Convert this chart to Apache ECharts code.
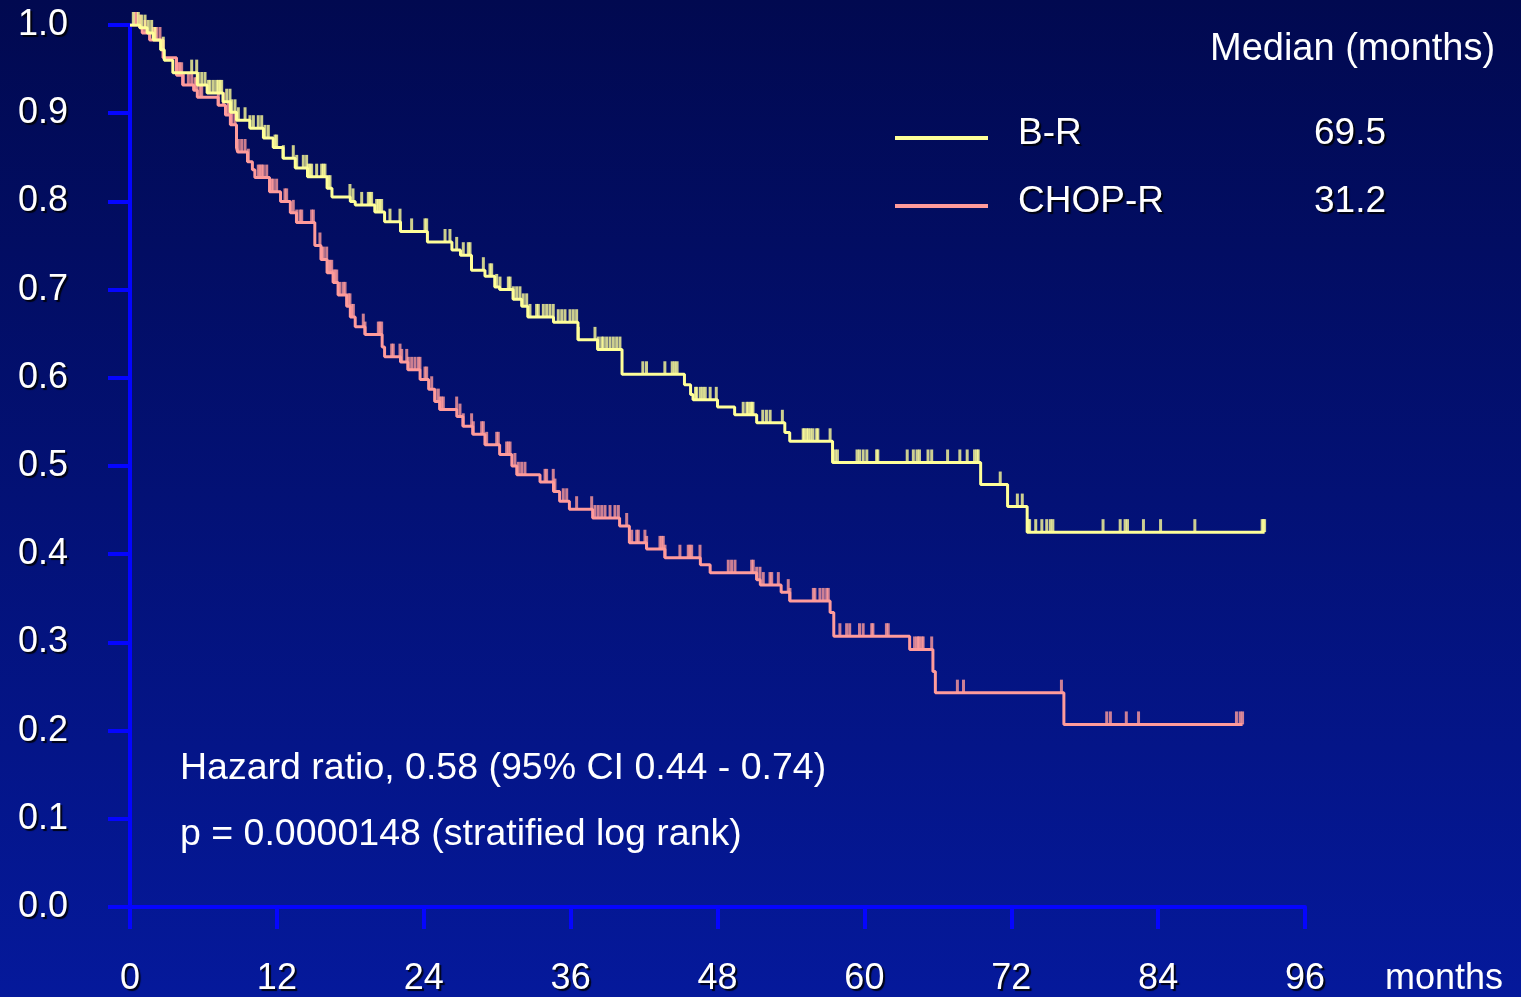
<!DOCTYPE html>
<html>
<head>
<meta charset="utf-8">
<title>Progression-free survival: B-R vs CHOP-R</title>
<script src="https://cdn.jsdelivr.net/npm/echarts@6/dist/echarts.min.js"></script>
<style>
  html, body { margin: 0; padding: 0; width: 100%; height: 100%; overflow: hidden; }
  #chart { width: 1521px; height: 997px; }
</style>
</head>
<body>
<div id="chart"></div>
<script>
// Kaplan-Meier step points: [month, survival after the event]
const brSteps = [
  [0, 1.0], [0.8, 0.997], [1.4, 0.991], [1.9, 0.983], [2.5, 0.972], [2.8, 0.960], [3.5, 0.946],
  [5.5, 0.932], [6.3, 0.923], [7.6, 0.913], [8.2, 0.901], [8.7, 0.892], [9.8, 0.883], [10.9, 0.872],
  [11.7, 0.861], [12.5, 0.849], [13.5, 0.838], [14.5, 0.828], [16.1, 0.815], [16.5, 0.805],
  [18.0, 0.800], [18.4, 0.796], [20.0, 0.788], [20.8, 0.777], [22.1, 0.766], [24.3, 0.754],
  [26.3, 0.745], [27.0, 0.739], [27.9, 0.722], [29.0, 0.715], [29.8, 0.703], [30.2, 0.700],
  [31.3, 0.689], [32.0, 0.681], [32.5, 0.669], [34.6, 0.663], [36.6, 0.643], [38.2, 0.632],
  [40.2, 0.604], [45.3, 0.592], [45.8, 0.581], [46.0, 0.575], [48.0, 0.567], [49.4, 0.558],
  [51.2, 0.549], [53.5, 0.538], [53.9, 0.528], [57.4, 0.504], [69.5, 0.479], [71.7, 0.454],
  [73.3, 0.425], [92.7, 0.425]
];
const chopSteps = [
  [0, 1.0], [0.8, 0.997], [1.0, 0.991], [1.6, 0.983], [2.7, 0.963], [3.8, 0.943], [4.3, 0.932],
  [5.2, 0.926], [5.5, 0.918], [7.2, 0.909], [7.8, 0.898], [8.2, 0.887], [8.7, 0.861], [8.8, 0.856],
  [9.6, 0.845], [10.0, 0.836], [10.2, 0.827], [11.4, 0.811], [12.3, 0.800], [13.1, 0.787],
  [13.6, 0.776], [15.1, 0.750], [15.6, 0.734], [16.1, 0.719], [16.6, 0.708], [17.0, 0.694],
  [17.7, 0.681], [18.0, 0.669], [18.4, 0.658], [19.2, 0.649], [20.6, 0.635], [20.8, 0.624],
  [22.1, 0.618], [22.7, 0.609], [23.7, 0.598], [24.4, 0.587], [24.9, 0.573], [25.3, 0.564],
  [26.7, 0.556], [27.2, 0.545], [28.0, 0.536], [29.0, 0.524], [30.2, 0.513], [31.2, 0.500],
  [31.6, 0.490], [33.5, 0.482], [34.6, 0.471], [35.1, 0.460], [35.9, 0.451], [37.8, 0.441],
  [40.0, 0.432], [40.8, 0.413], [42.2, 0.406], [43.7, 0.396], [46.6, 0.388], [47.4, 0.379],
  [51.2, 0.371], [51.5, 0.365], [53.2, 0.357], [53.9, 0.347], [57.2, 0.334], [57.5, 0.307],
  [63.7, 0.292], [65.6, 0.267], [65.8, 0.243], [76.3, 0.207], [90.9, 0.207]
];

// Censoring times (months)
const brCensored = [
  0.27, 0.68, 0.95, 1.23, 1.5, 1.77, 2.04, 2.72, 5.04, 5.45, 5.58, 5.86, 6.13, 6.4, 6.54, 6.81,
  7.08, 7.22, 7.35, 7.49, 7.9, 8.17, 8.31, 8.58, 8.85, 9.4, 9.8, 10.08, 10.48, 10.76, 11.03, 11.3,
  11.85, 11.98, 12.53, 13.34, 13.62, 14.16, 14.43, 14.57, 14.71, 14.84, 15.25, 15.66, 15.8, 15.93,
  16.2, 16.34, 17.97, 18.22, 18.93, 19.47, 19.61, 19.74, 20.15, 20.29, 20.42, 20.56, 21.24, 22.06,
  23.01, 24.10, 24.24, 25.74, 26.14, 26.69, 27.23, 27.64, 27.78, 28.87, 29.41, 29.55, 29.96, 30.23,
  30.91, 31.05, 31.32, 31.59, 31.86, 32.13, 32.41, 32.68, 33.22, 33.36, 33.77, 34.04, 34.31, 34.58,
  34.99, 35.27, 35.54, 35.95, 36.22, 36.49, 36.63, 37.99, 38.26, 38.54, 38.67, 38.94, 39.22, 39.49,
  39.76, 40.03, 41.9, 42.2, 43.7, 44.3, 44.5, 44.7, 46.2, 46.3, 46.6, 46.8, 47.0, 47.4, 47.9, 50.1,
  50.4, 50.5, 50.7, 50.8, 50.9, 51.7, 52.0, 52.3, 53.3, 55.0, 55.1, 55.3, 55.4, 55.6, 55.8, 56.1,
  56.2, 57.2, 57.6, 57.8, 59.4, 59.6, 59.9, 60.2, 61.0, 61.1, 63.5, 64.0, 64.3, 64.5, 65.2, 65.5,
  66.8, 67.8, 68.4, 69.0, 69.2, 69.3, 71.1, 72.5, 72.9, 73.4, 73.5, 74.0, 74.5, 74.9, 75.2, 75.4,
  79.5, 80.9, 81.3, 81.5, 82.8, 84.2, 87.0, 92.5, 92.6, 92.7
];
const chopCensored = [
  0.41, 0.54, 0.82, 1.23, 1.91, 2.04, 2.18, 2.45, 3.95, 4.08, 4.22, 4.36, 4.77, 5.04, 5.31, 5.45,
  5.72, 5.86, 7.22, 7.63, 8.03, 8.17, 8.31, 8.58, 8.85, 9.12, 9.40, 9.67, 10.48, 10.62, 10.76, 10.89,
  11.17, 11.44, 11.57, 11.71, 11.98, 12.66, 12.80, 13.34, 13.62, 13.89, 14.03, 14.84, 14.98, 15.52,
  15.66, 15.80, 16.07, 16.20, 16.34, 16.48, 16.61, 16.75, 16.89, 17.16, 17.43, 17.57, 17.84, 17.97,
  18.11, 18.25, 19.06, 19.20, 20.29, 20.42, 20.56, 21.38, 21.51, 22.06, 22.20, 22.61, 22.74, 23.01,
  23.28, 23.55, 23.69, 24.10, 24.24, 24.65, 24.92, 25.19, 25.33, 25.46, 25.60, 26.69, 26.96, 27.23,
  27.91, 28.05, 28.73, 28.87, 29.14, 29.96, 30.09, 30.77, 30.91, 31.05, 31.45, 31.73, 32.00, 32.27,
  33.91, 34.04, 34.58, 34.72, 35.40, 35.68, 36.49, 37.72, 37.99, 38.26, 38.54, 38.81, 39.22, 39.62,
  39.90, 40.58, 40.99, 41.40, 41.53, 42.07, 42.21, 43.30, 43.44, 43.57, 43.71, 44.93, 45.61, 45.75,
  45.89, 46.57, 48.88, 49.15, 49.43, 50.79, 50.92, 51.20, 51.47, 51.74, 52.29, 52.43, 52.97, 53.78,
  53.92, 55.83, 55.96, 56.37, 56.64, 56.92, 57.05, 58.0, 58.55, 58.8, 59.6, 59.9, 60.6, 60.7, 61.8,
  61.95, 64.1, 64.3, 64.4, 64.5, 64.7, 64.8, 65.5, 67.6, 68.1, 76.1, 79.8, 80.1, 81.4, 82.4, 90.4,
  90.7, 90.9
];

const arms = ['B-R', 'CHOP-R'];
const medians = ['69.5', '31.2'];
const xTicks = [0, 12, 24, 36, 48, 60, 72, 84, 96];
const statLines = [
  'Hazard ratio, 0.58 (95% CI 0.44 - 0.74)',
  'p = 0.0000148 (stratified log rank)'
];

const FONT = "'Liberation Sans', Arial, sans-serif";
const YELLOW = '#ffff99';
const PINK = '#ff9b9b';
const AXIS = '#0505ff';

// survival level of a step curve at time t
function survivalAt(steps, t) {
  let s = steps[0][1];
  for (const [time, val] of steps) {
    if (time <= t) s = val; else break;
  }
  return s;
}
const censorPoints = (steps, times) => times.map(t => [t, survivalAt(steps, t)]);

const shadow = {
  textShadowColor: 'rgba(0,0,0,0.85)',
  textShadowOffsetX: 2,
  textShadowOffsetY: 2,
  textShadowBlur: 1
};
const gShadow = { shadowColor: 'rgba(0,0,0,0.85)', shadowOffsetX: 2, shadowOffsetY: 2, shadowBlur: 1 };

const chart = echarts.init(document.getElementById('chart'), null, { renderer: 'canvas' });

const option = {
  animation: false,
  backgroundColor: {
    type: 'linear', x: 0, y: 0, x2: 0, y2: 1,
    colorStops: [
      { offset: 0, color: '#010950' },
      { offset: 1, color: '#05199b' }
    ]
  },
  grid: { left: 130, right: 216, top: 25, bottom: 89 },
  legend: {
    data: arms,
    orient: 'vertical',
    left: 890,
    top: 109,
    itemWidth: 93,
    itemHeight: 4,
    itemGap: 20,
    icon: 'rect',
    selectedMode: false,
    formatter: name => `{n|${name}}{v|${medians[arms.indexOf(name)]}}`,
    textStyle: {
      color: '#ffffff',
      fontFamily: FONT,
      fontSize: 37,
      lineHeight: 40,
      padding: [0, 0, 8, 25],
      ...shadow,
      rich: {
        n: { width: 296, color: '#ffffff', fontFamily: FONT, fontSize: 37, ...shadow },
        v: { color: '#ffffff', fontFamily: FONT, fontSize: 37, ...shadow }
      }
    }
  },
  xAxis: {
    type: 'value',
    min: 0,
    max: 96,
    interval: 12,
    axisLine: { show: true, onZero: false, lineStyle: { color: AXIS, width: 4 } },
    axisTick: { show: true, length: 22, lineStyle: { color: AXIS, width: 4 } },
    splitLine: { show: false },
    axisLabel: {
      margin: 54,
      color: '#ffffff',
      fontFamily: FONT,
      fontSize: 36,
      formatter: v => (xTicks.includes(v) ? String(v) : ''),
      ...shadow
    }
  },
  yAxis: {
    type: 'value',
    min: 0,
    max: 1,
    interval: 0.1,
    axisLine: { show: true, onZero: false, lineStyle: { color: AXIS, width: 4 } },
    axisTick: { show: true, length: 22, lineStyle: { color: AXIS, width: 4 } },
    splitLine: { show: false },
    axisLabel: {
      margin: 62,
      color: '#ffffff',
      fontFamily: FONT,
      fontSize: 36,
      formatter: v => v.toFixed(1),
      ...shadow
    }
  },
  graphic: [
    {
      type: 'text', left: 1385, top: 961,
      style: { text: 'months', fill: '#ffffff', font: `36px ${FONT}`, ...gShadow }
    },
    {
      type: 'text', left: 1210, top: 31,
      style: { text: 'Median (months)', fill: '#ffffff', font: `38px ${FONT}`, ...gShadow }
    },
    {
      type: 'text', left: 180, top: 750,
      style: { text: statLines[0], fill: '#ffffff', font: `37.5px ${FONT}`, ...gShadow }
    },
    {
      type: 'text', left: 180, top: 816,
      style: { text: statLines[1], fill: '#ffffff', font: `37.5px ${FONT}`, ...gShadow }
    }
  ],
  series: [
    {
      name: 'CHOP-R',
      type: 'line',
      step: 'end',
      data: chopSteps,
      showSymbol: false,
      color: PINK,
      lineStyle: { color: PINK, width: 3 },
      z: 2
    },
    {
      name: 'CHOP-R censored',
      type: 'scatter',
      data: censorPoints(chopSteps, chopCensored),
      symbol: 'rect',
      symbolSize: [3, 13],
      symbolOffset: [0, -6.5],
      itemStyle: { color: PINK },
      z: 2
    },
    {
      name: 'B-R',
      type: 'line',
      step: 'end',
      data: brSteps,
      showSymbol: false,
      color: YELLOW,
      lineStyle: { color: YELLOW, width: 3 },
      z: 3
    },
    {
      name: 'B-R censored',
      type: 'scatter',
      data: censorPoints(brSteps, brCensored),
      symbol: 'rect',
      symbolSize: [3, 13],
      symbolOffset: [0, -6.5],
      itemStyle: { color: YELLOW },
      z: 3
    }
  ]
};

chart.setOption(option);
</script>
</body>
</html>
